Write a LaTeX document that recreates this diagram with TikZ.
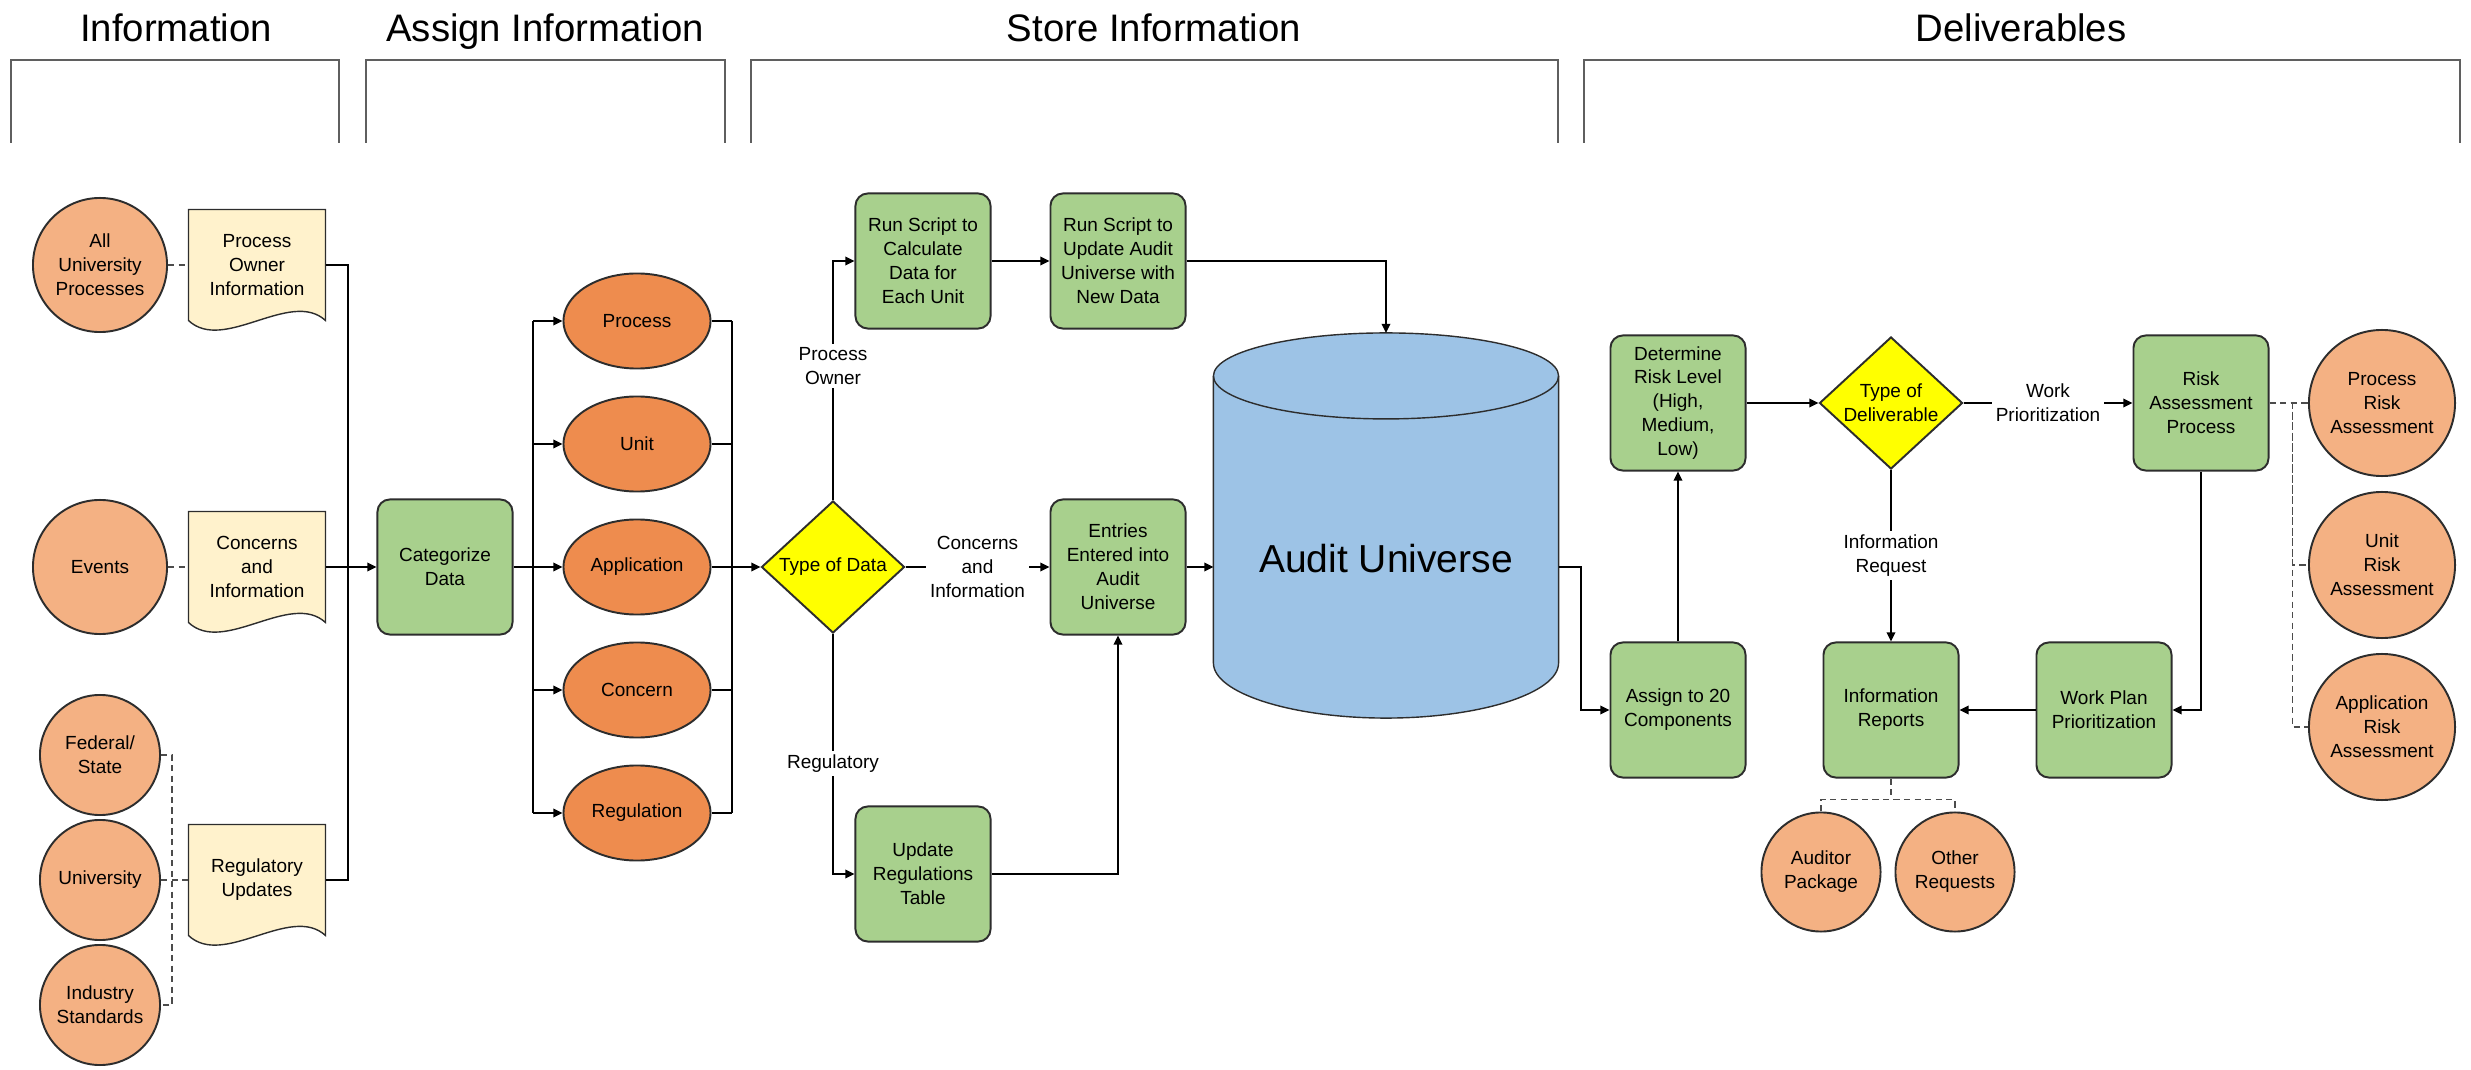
\documentclass[tikz,border=0pt]{standalone}
\usepackage{fontspec}
\setmainfont{Liberation Sans}
\usetikzlibrary{shapes.geometric,arrows.meta,calc,backgrounds}

\definecolor{circfill}{RGB}{244,177,131}
\definecolor{ellfill}{RGB}{238,140,78}
\definecolor{boxfill}{RGB}{168,208,141}
\definecolor{docfill}{RGB}{255,242,204}
\definecolor{decfill}{RGB}{255,255,0}
\definecolor{dbfill}{RGB}{157,195,230}
\definecolor{linecol}{RGB}{45,45,45}
\definecolor{brkcol}{RGB}{95,95,95}

\tikzset{
  smallfont/.style={font=\fontsize{5.4pt}{6.8pt}\selectfont},
  header/.style={font=\fontsize{10.9pt}{13pt}\selectfont, anchor=base},
  procbox/.style={rectangle, rounded corners=3.5pt, draw=linecol, fill=boxfill,
    minimum width=1.35cm, minimum height=1.35cm, inner sep=0pt, align=center},
  srccircle/.style={circle, draw=linecol, fill=circfill, inner sep=0pt, align=center},
  category/.style={ellipse, draw=linecol, fill=ellfill, minimum width=1.47cm,
    minimum height=0.95cm, inner sep=0pt},
  docbox/.style={rectangle, minimum width=1.35cm, minimum height=1.09cm,
    inner sep=0pt, align=center},
  decision/.style={diamond, aspect=1.08, draw=linecol, fill=decfill,
    minimum width=1.43cm, minimum height=1.32cm, inner sep=0pt, align=center},
  dbnode/.style={rectangle, minimum width=3.43cm, minimum height=3.83cm, inner sep=0pt,
    font=\fontsize{11.1pt}{13pt}\selectfont, text height=31pt, text depth=4pt},
  lbl/.style={fill=white, inner sep=1pt, align=center},
  dashline/.style={draw=linecol!85, dash pattern=on 1.8pt off 1.2pt},
  brk/.style={draw=brkcol, line width=0.8pt},
}

\begin{document}
\begin{tikzpicture}[x=0.01cm, y=-0.01cm, line width=0.55pt,
    >={Triangle[length=2.6pt,width=2.4pt]}, every node/.append style={smallfont}]
\useasboundingbox (0,0) rectangle (2471,1070);

% column headers
\node[header] (hinfo) at (176,42) {Information};
\node[header] (hassign) at (545,42) {Assign Information};
\node[header] (hstore) at (1154,42) {Store Information};
\node[header] (hdeliv) at (2021,42) {Deliverables};
\foreach \l/\r in {11/339, 366/725, 751/1558, 1584/2460}
  \draw[brk] (\l,143) |- (\r,60) -- (\r,143);

% information sources
\node[srccircle, minimum size=1.34cm] (allproc) at (100,265) {All\\University\\Processes};
\node[srccircle, minimum size=1.34cm] (events) at (100,567) {Events};
\node[srccircle, minimum size=1.2cm] (fedstate) at (100,755) {Federal/\\State};
\node[srccircle, minimum size=1.2cm] (univ) at (100,880) {University};
\node[srccircle, minimum size=1.2cm] (industry) at (100,1005) {Industry\\Standards};
\node[docbox] (ownerdoc) at (257,265) {Process\\Owner\\Information};
\node[docbox] (concerndoc) at (257,567) {Concerns\\and\\Information};
\node[docbox] (regdoc) at (257,880) {Regulatory\\Updates};

% assign information
\node[procbox] (catdata) at (445,567) {Categorize\\Data};
\node[category] (eproc) at (637,321) {Process};
\node[category] (eunit) at (637,444) {Unit};
\node[category] (eappl) at (637,567) {Application};
\node[category] (econc) at (637,690) {Concern};
\node[category] (ereg) at (637,813) {Regulation};

% store information
\node[decision] (typedata) at (833,567) {Type of Data};
\node[procbox] (calcdata) at (923,261) {Run Script to\\Calculate\\Data for\\Each Unit};
\node[procbox] (updaudit) at (1118,261) {Run Script to\\Update Audit\\Universe with\\New Data};
\node[procbox] (entries) at (1118,567) {Entries\\Entered into\\Audit\\Universe};
\node[procbox] (regtable) at (923,874) {Update\\Regulations\\Table};
\node[dbnode] (audit) at (1386,525.5) {Audit Universe};

% deliverables
\node[procbox] (risklevel) at (1678,403) {Determine\\Risk Level\\(High,\\Medium,\\Low)};
\node[procbox] (assign) at (1678,710) {Assign to 20\\Components};
\node[decision] (typedeliv) at (1891,403) {Type of\\Deliverable};
\node[procbox] (inforeports) at (1891,710) {Information\\Reports};
\node[procbox] (riskproc) at (2201,403) {Risk\\Assessment\\Process};
\node[procbox] (workplan) at (2104,710) {Work Plan\\Prioritization};
\node[srccircle, minimum size=1.46cm] (procrisk) at (2382,403) {Process\\Risk\\Assessment};
\node[srccircle, minimum size=1.46cm] (unitrisk) at (2382,565) {Unit\\Risk\\Assessment};
\node[srccircle, minimum size=1.46cm] (applrisk) at (2382,727) {Application\\Risk\\Assessment};
\node[srccircle, minimum size=1.19cm] (auditpkg) at (1821,872) {Auditor\\Package};
\node[srccircle, minimum size=1.19cm] (otherreq) at (1955,872) {Other\\Requests};

% document and database outlines behind the texts
\begin{scope}[on background layer]
  \foreach \d in {ownerdoc,concerndoc,regdoc}
    \filldraw[draw=linecol, fill=docfill] (\d.north west) -- (\d.north east) -- (\d.south east)
      .. controls +(-35,-32) and +(35,33) .. (\d.south west) -- cycle;
  \filldraw[draw=linecol, fill=dbfill]
    ($(audit.north west)+(0,43)$) -- ($(audit.south west)+(0,-55)$)
    .. controls +(0,30) and +(-94,0) .. (audit.south)
    .. controls +(94,0) and +(0,30) .. ($(audit.south east)+(0,-55)$)
    -- ($(audit.north east)+(0,43)$)
    .. controls +(0,-24) and +(94,0) .. (audit.north)
    .. controls +(-94,0) and +(0,-24) .. ($(audit.north west)+(0,43)$) -- cycle;
  \draw[linecol] ($(audit.north west)+(0,43)$)
    .. controls +(0,24) and +(-94,0) .. ($(audit.north)+(0,86)$)
    .. controls +(94,0) and +(0,24) .. ($(audit.north east)+(0,43)$);
\end{scope}

% sources to documents
\draw[dashline] (allproc) -- (ownerdoc);
\draw[dashline] (events) -- (concerndoc);
\draw[dashline] (univ) -- (regdoc);
\draw[dashline] (fedstate.east) -- ++(11,0) |- (industry.east);
\coordinate (docbus) at (348,567);
\draw (ownerdoc.east) -- (ownerdoc.east -| docbus) -- (regdoc.east -| docbus) -- (regdoc.east);
\draw[->] (concerndoc.east) -- (catdata.west);

% categories
\coordinate (catsplit) at (533,567);
\coordinate (catjoin) at (732,567);
\draw (catdata.east) -- (catsplit);
\draw (catsplit |- eproc) -- (catsplit |- ereg);
\draw (catjoin |- eproc) -- (catjoin |- ereg);
\foreach \e in {eproc,eunit,eappl,econc,ereg} {
  \draw[->] (catsplit |- \e) -- (\e.west);
  \draw (\e.east) -- (catjoin |- \e);
}
\draw[->] (catjoin) -- (typedata.west);

% storing
\draw[->] (typedata.north) |- (calcdata.west) node[lbl, pos=0.28] {Process\\Owner};
\draw[->] (typedata.east) -- (entries.west) node[lbl, midway] {Concerns\\and\\Information};
\draw[->] (typedata.south) |- (regtable.west) node[lbl, pos=0.27] {Regulatory};
\draw[->] (calcdata) -- (updaudit);
\draw[->] (updaudit.east) -| (audit.north);
\draw[->] (regtable.east) -| (entries.south);
\draw[->] (entries.east) -- (entries.east -| audit.west);
\draw[->] (entries.east -| audit.east) -- ++(22,0) |- (assign.west);

% deliverables
\draw[->] (assign) -- (risklevel);
\draw[->] (risklevel) -- (typedeliv);
\draw[->] (typedeliv) -- (inforeports) node[lbl, midway] {Information\\Request};
\draw[->] (typedeliv) -- (riskproc) node[lbl, midway] {Work\\Prioritization};
\draw[->] (riskproc.south) |- (workplan.east);
\draw[->] (workplan) -- (inforeports);
\draw[dashline] (riskproc) -- (procrisk);
\draw[dashline] (riskproc.east) -- ++(23,0) |- (applrisk.west);
\draw[dashline] ($(riskproc.east)+(23,0)$) |- (unitrisk.west);
\draw[dashline] (inforeports.south) -- ++(0,21) coordinate (repsplit);
\draw[dashline] (auditpkg.north) |- (repsplit) -| (otherreq.north);
\end{tikzpicture}
\end{document}
